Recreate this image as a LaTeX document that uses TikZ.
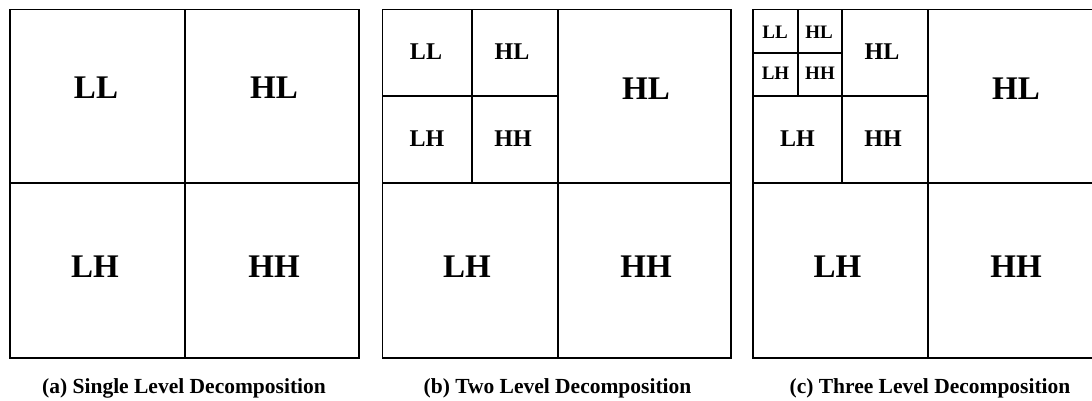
\documentclass[tikz,border=0pt]{standalone}
\usepackage{fontspec}
\setmainfont{Liberation Serif}
\tikzstyle{band} = [font={\bfseries\fontsize{33}{33}\selectfont}]
\tikzstyle{sub} = [font={\bfseries\fontsize{24}{24}\selectfont}]
\tikzstyle{subsub} = [font={\bfseries\fontsize{19}{19}\selectfont}]
\tikzstyle{caption} = [font={\bfseries\fontsize{21.5}{21.5}\selectfont}, anchor=base]
\tikzstyle{grid} = [draw=black, line width=1.8pt]

\begin{document}
\begin{tikzpicture}[x=1pt,y=-1pt]
        \useasboundingbox (0,0) rectangle (1092,401);
        % (a) one level
        \draw[grid] (10,9.5) rectangle (359,358);
        \draw[grid] (185,9.5) -- (185,358) (10,183) -- (359,183);
        \node[band](aLL) at (96,88){LL};
        \node[band](aHL) at (274,88){HL};
        \node[band](aLH) at (95,267){LH};
        \node[band](aHH) at (274,267){HH};
        \node[caption](acap) at (184,393){(a) Single Level Decomposition};
        % (b) two levels
        \draw[grid] (382.5,9.5) rectangle (731,358);
        \draw[grid] (558,9.5) -- (558,358) (382.5,183) -- (731,183);
        \draw[grid] (472,9.5) -- (472,183) (382.5,96) -- (558,96);
        \node[sub](bLL) at (426,52){LL};
        \node[sub](bHL) at (512,52){HL};
        \node[sub](bLH) at (427,139){LH};
        \node[sub](bHH) at (513,139){HH};
        \node[band](bHL2) at (646,89){HL};
        \node[band](bLH2) at (467,267){LH};
        \node[band](bHH2) at (646,267){HH};
        \node[caption](bcap) at (557.5,393){(b) Two Level Decomposition};
        % (c) three levels
        \draw[grid] (753,9.5) rectangle (1102,358);
        \draw[grid] (928,9.5) -- (928,358) (753,183) -- (1102,183);
        \draw[grid] (842,9.5) -- (842,183) (753,96) -- (928,96);
        \draw[grid] (798,9.5) -- (798,96) (753,53) -- (842,53);
        \node[subsub](cLL) at (775,32){LL};
        \node[subsub](cHL) at (819,32){HL};
        \node[subsub](cLH) at (775.5,73){LH};
        \node[subsub](cHH) at (820,73){HH};
        \node[sub](cHL2) at (882,52){HL};
        \node[sub](cLH2) at (797.5,139){LH};
        \node[sub](cHH2) at (883,139){HH};
        \node[band](cHL3) at (1016,89){HL};
        \node[band](cLH3) at (837.5,267){LH};
        \node[band](cHH3) at (1016,267){HH};
        \node[caption](ccap) at (930,393){(c) Three Level Decomposition};
      \end{tikzpicture}
\end{document}
